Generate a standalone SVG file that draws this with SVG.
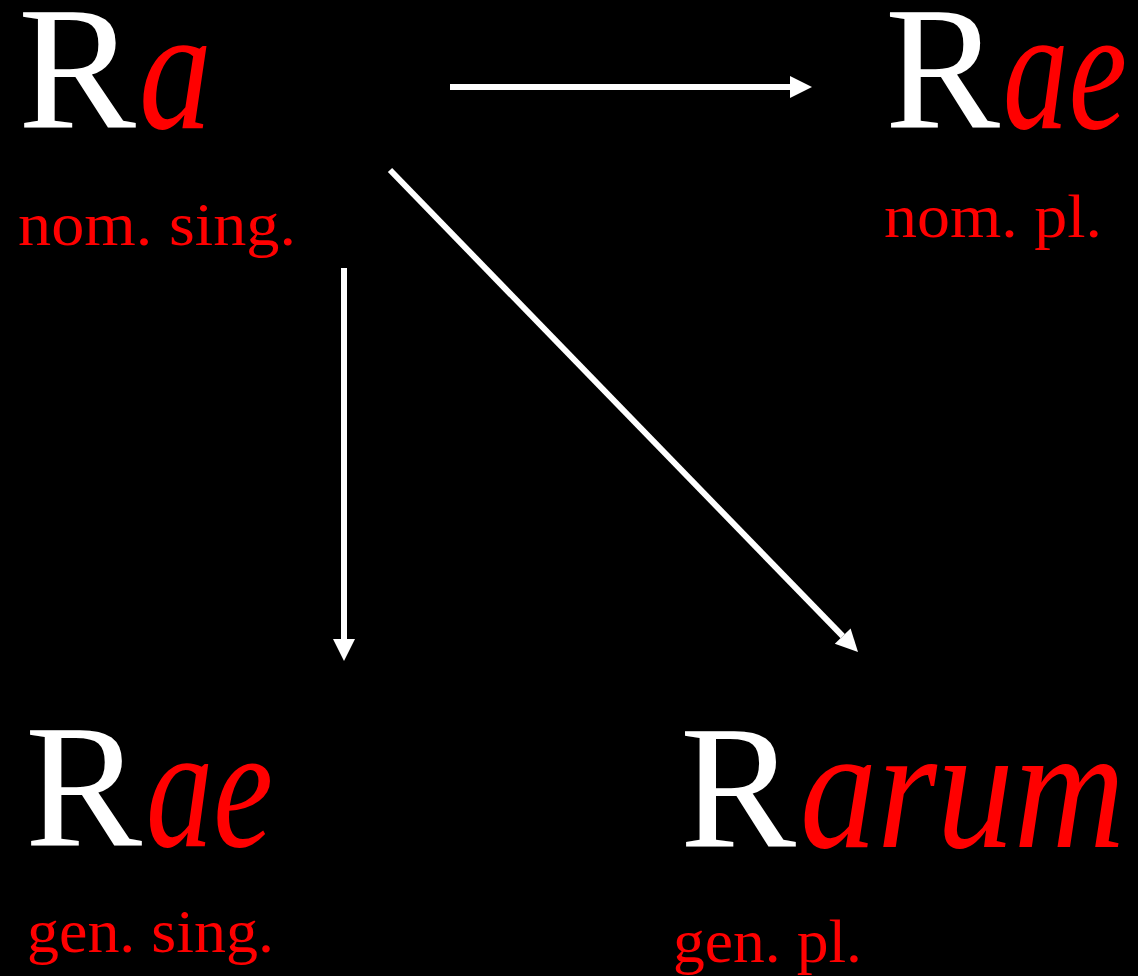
<svg xmlns="http://www.w3.org/2000/svg" width="1138" height="976" viewBox="0 0 1138 976">
<style>
.big{font-family:"Liberation Serif",serif;font-size:176px;fill:#fff}
.suf{font-family:"Liberation Serif",serif;font-size:176px;font-style:italic;fill:#ff0000}
.lab{font-family:"Liberation Serif",serif;font-size:62px;fill:#ff0000}
.conn line{stroke:#fff;stroke-width:6;fill:none}
</style>
<defs>
<marker id="ah" markerUnits="userSpaceOnUse" markerWidth="24" markerHeight="24" refX="0" refY="11" orient="auto" overflow="visible">
<path d="M0,0 L22,11 L0,22 z" fill="#fff"/>
</marker>
</defs>
<rect width="1138" height="976" fill="#000"/>
<g id="nom-sing">
<text class="big" x="18" y="128" textLength="118" lengthAdjust="spacingAndGlyphs">R</text>
<text class="suf" x="139" y="128" textLength="73" lengthAdjust="spacingAndGlyphs">a</text>
<text class="lab" x="18" y="245" textLength="278" lengthAdjust="spacingAndGlyphs">nom. sing.</text>
</g>
<g id="nom-pl">
<text class="big" x="885" y="128" textLength="115" lengthAdjust="spacingAndGlyphs">R</text>
<text class="suf" x="1003" y="128" textLength="124" lengthAdjust="spacingAndGlyphs">ae</text>
<text class="lab" x="884" y="237" textLength="218" lengthAdjust="spacingAndGlyphs">nom. pl.</text>
</g>
<g id="gen-sing">
<text class="big" x="25" y="846" textLength="117" lengthAdjust="spacingAndGlyphs">R</text>
<text class="suf" x="146" y="846" textLength="127" lengthAdjust="spacingAndGlyphs">ae</text>
<text class="lab" x="27" y="952" textLength="247" lengthAdjust="spacingAndGlyphs">gen. sing.</text>
</g>
<g id="gen-pl">
<text class="big" x="680" y="847" textLength="116" lengthAdjust="spacingAndGlyphs">R</text>
<text class="suf" x="800" y="847" textLength="325" lengthAdjust="spacingAndGlyphs">arum</text>
<text class="lab" x="673" y="962" textLength="189" lengthAdjust="spacingAndGlyphs">gen. pl.</text>
</g>
<g id="connectors" class="conn">
<line x1="450" y1="87" x2="790" y2="87" marker-end="url(#ah)"/>
<line x1="344" y1="268" x2="344" y2="639" marker-end="url(#ah)"/>
<line x1="390" y1="170" x2="842.7" y2="636.2" marker-end="url(#ah)"/>
</g>
</svg>
